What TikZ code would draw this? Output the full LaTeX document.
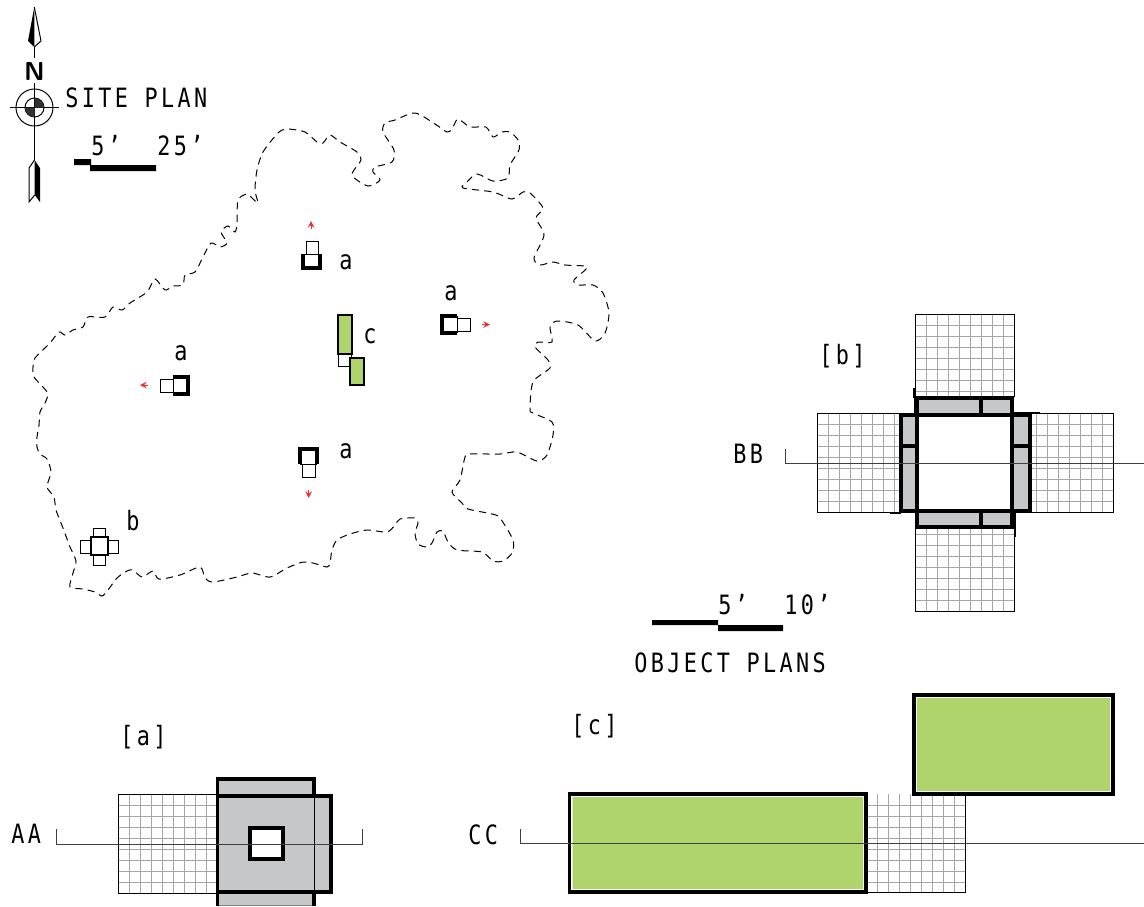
\documentclass[tikz,border=0pt]{standalone}
\usepackage{fontspec}
\setmonofont[FakeStretch=.82,LetterSpace=12.7]{DejaVu Sans Mono}
\definecolor{leaf}{HTML}{AFD46C}
\definecolor{wall}{HTML}{C6C7C9}
\definecolor{mark}{HTML}{ED2B3A}
\tikzset{
  lbl/.style={font=\ttfamily\fontsize{13.3}{15}\selectfont,anchor=base west,inner sep=0pt},
  thin line/.style={line width=.5pt},
  cut line/.style={line width=.5pt,draw=black!75},
  thick line/.style={line width=1.6pt},
  mid line/.style={line width=1.1pt},
  tile/.style={line width=.45pt,draw=black!35},
  turnout/.style={->,line width=.5pt,draw=mark},
}
\begin{document}
\begin{tikzpicture}[x=.5pt,y=-.5pt,>=stealth,line join=miter]
  \useasboundingbox (0,0) rectangle (1144,906);
  % north sign
  \draw[thin line] (34.5,47)--(34.5,58) (34.5,83)--(34.5,160) (10,107.5)--(59,107.5);
  \draw[thin line] (34.5,107.5) circle (18.5) (34.5,107.5) circle (9.5);
  \fill[black!80] (34.5,107.5)--(34.5,98) arc (-90:0:9.5)--cycle;
  \fill[black!80] (34.5,107.5)--(34.5,117) arc (90:180:9.5)--cycle;
  \draw[thin line] (34.3,7)--(41,41)--(34.3,47);
  \fill (34.3,7)--(28,41)--(34.3,47)--cycle;
  \draw[thin line] (34.5,160)--(29,168)--(29,202)--(34.7,195);
  \fill (34.5,160)--(40,168)--(40,202)--(34.7,195)--cycle;
  \node[font=\sffamily\bfseries\fontsize{13}{15}\selectfont,inner sep=0pt] (north) at (34.5,71) {N};
  % site plan title and scale
  \node[lbl] (siteplan) at (65,107) {SITE PLAN};
  \fill (74,159) rectangle (91,165) (90,165) rectangle (156,171);
  \node[lbl] (sitefive) at (91,155) {5’};
  \node[lbl] (sitetwentyfive) at (157,155) {25’};
  % site edge
  \draw[thin line,dash pattern=on 3.6pt off 2.6pt] plot[smooth cycle,tension=.45] coordinates {
    (33,367) (34,377) (43,387) (48,394) (45,403) (40,412) (39,425) (37,437) (37,447) (40,454)
    (47,459) (51,472) (47,487) (54,497) (56,510) (63,528) (70,547) (76,561) (73,573) (70,587)
    (83,589) (95,592) (102,596) (108,590) (117,578) (127,571) (133,570) (142,577) (153,571) (159,579)
    (180,575) (200,567) (205,578) (213,582) (237,577) (252,573) (270,577) (287,568) (303,562) (313,563)
    (327,567) (330,563) (332,550) (337,540) (350,534) (367,530) (387,532) (395,525) (400,519) (415,518)
    (418,523) (415,533) (418,544) (427,547) (432,543) (437,532) (443,531) (448,542) (457,550) (482,552)
    (493,561) (503,561) (512,553) (513,540) (500,518) (492,514) (468,509) (462,503) (452,492) (460,480)
    (465,457) (470,454) (500,454) (517,452) (537,461) (547,455) (553,435) (552,422) (533,413) (530,409)
    (533,382) (550,368) (548,360) (535,347) (538,342) (552,342) (550,327) (557,321) (578,325) (595,341)
    (605,333) (609,313) (603,293) (593,285) (578,285) (574,280) (587,267) (565,265) (553,262) (540,265)
    (534,258) (544,235) (536,218) (543,208) (530,193) (523,192) (512,199) (493,192) (463,188) (467,182)
    (477,174) (493,181) (508,178) (510,165) (519,150) (518,140) (510,132) (502,132) (493,137) (486,127)
    (470,127) (458,119) (452,129) (447,132) (435,124) (415,113) (395,120) (385,123) (383,132) (394,150)
    (392,162) (375,167) (373,172) (380,180) (368,186) (352,175) (361,160) (357,152) (340,142) (330,135)
    (323,143) (317,142) (305,132) (287,129) (278,133) (263,152) (257,170) (255,190) (258,203) (252,198)
    (247,194) (238,200) (237,223) (235,232) (228,226) (221,232) (227,243) (220,247) (211,243) (203,257)
    (195,272) (185,275) (183,285) (173,286) (165,290) (155,279) (147,292) (130,303) (122,310) (113,307)
    (105,317) (88,317) (83,327) (73,330) (65,335) (59,332) (50,343) (35,358)};
  % site objects a
  \draw[thin line] (306,241) rectangle (318,254) (457,318) rectangle (470,331) (160,379) rectangle (173,392) (302,464) rectangle (315,477);
  \draw[thin line] (303,254)--(320,254) (457,316)--(457,333) (173,377)--(173,394) (300,464)--(317,464);
  \draw[thick line] (303,254)--(303,268)--(320,268)--(320,254);
  \draw[thick line] (457,316)--(442,316)--(442,333)--(457,333);
  \draw[thick line] (173,377)--(188,377)--(188,394)--(173,394);
  \draw[thick line] (300,464)--(300,449)--(317,449)--(317,464);
  \draw[turnout] (311,229)--(311,221);
  \draw[turnout] (482,324.5)--(490,324.5);
  \draw[turnout] (148,385)--(140,385);
  \draw[turnout] (308.7,490)--(308.7,498);
  \node[lbl] (anorth) at (339,269) {a};
  \node[lbl] (aeast) at (444,300) {a};
  \node[lbl] (awest) at (174,360) {a};
  \node[lbl] (asouth) at (339,458) {a};
  % site object b
  \draw[thin line] (93,528) rectangle (105,537) (93,555) rectangle (105,565) (80,540) rectangle (91,553) (108,540) rectangle (118,553);
  \draw[line width=1.3pt] (91,537) rectangle (108,555);
  \node[lbl] (bsite) at (126,530) {b};
  % site object c
  \draw[thin line] (338,354) rectangle (351,366);
  \draw[mid line,fill=leaf] (338,315) rectangle (352,354);
  \draw[mid line,fill=leaf] (350,358) rectangle (364,385);
  \node[lbl] (csite) at (363,343) {c};
  % object b
  \foreach \xa/\ya/\xb/\yb/\ox/\oy/\sx/\sy in {915.5/314.5/1014.5/397/915.5/314.5/11/11,817/413/899/512/817/413/11/11,1031/413/1113/512/1113/413/-11/11,915.5/528/1014.5/611/915.5/611/11/-11}{
    \begin{scope}
      \clip (\xa,\ya) rectangle (\xb,\yb);
      \foreach \i in {1,...,9} \draw[tile] (\ox+\i*\sx,\ya)--(\ox+\i*\sx,\yb) (\xa,\oy+\i*\sy)--(\xb,\oy+\i*\sy);
    \end{scope}
  }
  \draw[thin line] (915.5,397)--(915.5,314.5)--(1014.5,314.5)--(1014.5,397);
  \draw[thin line] (899,413)--(817,413)--(817,512)--(899,512);
  \draw[thin line] (1031,413)--(1113,413)--(1113,512)--(1031,512);
  \draw[thin line] (915.5,528)--(915.5,611)--(1014.5,611)--(1014.5,528);
  \draw[thick line,fill=wall] (917,398) rectangle (1012,415) (917,511) rectangle (1012,527) (901,415) rectangle (917,511) (1012,415) rectangle (1030,511);
  \draw[thick line] (981,398)--(981,415) (981,511)--(981,527) (901,446)--(917,446) (1012,446)--(1030,446);
  \draw[line width=1pt] (914,388)--(914,398) (1012,413)--(1040,413) (890,513)--(901,513) (1015,527)--(1015,537);
  \draw[line width=2pt] (915.5,398)--(915.5,415) (1014,511)--(1014,527);
  \draw[cut line] (785.5,449)--(785.5,463)--(1144,463);
  \node[lbl] (bbtext) at (733,463) {BB};
  \node[lbl] (btext) at (819,364) {[b]};
  % object scale
  \fill (652,620) rectangle (718,625) (718,625) rectangle (783,631);
  \node[lbl] (objfive) at (718,614) {5’};
  \node[lbl] (objten) at (784,614) {10’};
  \node[lbl] (objplans) at (634,672) {OBJECT PLANS};
  % object a
  \begin{scope}[shift={(118,794)}]
    \foreach \i in {1,...,8} \draw[tile] (\i*11,0)--(\i*11,99) (0,\i*11)--(99,\i*11);
  \end{scope}
  \draw[thin line] (217,794)--(118,794)--(118,893)--(217,893);
  \fill[wall] (217.5,779) rectangle (314,905);
  \draw[line width=.5pt,draw=black!50] (217.5,905.5)--(314,905.5);
  \draw[thick line] (217.5,906)--(217.5,779)--(314,779)--(314,906);
  \draw[thick line,fill=wall] (217.5,796) rectangle (331,892);
  \draw[thin line] (314,796)--(314,892);
  \draw[thick line,fill=white] (250,828) rectangle (283,859);
  \draw[cut line] (56,829)--(56,844)--(362,844)--(362,829);
  \node[lbl] (aatext) at (11,843) {AA};
  \node[lbl] (atext) at (120,745) {[a]};
  % object c
  \begin{scope}[shift={(866,794)}]
    \foreach \i in {1,...,8} \draw[tile] (\i*11,0)--(\i*11,98) (0,\i*11)--(99,\i*11);
  \end{scope}
  \draw[thin line] (866,892)--(965,892)--(965,794);
  \draw[thick line,fill=white] (569.5,794) rectangle (866,892);
  \draw[thick line,fill=white] (914,695) rectangle (1113,794);
  \fill[leaf] (572.5,797) rectangle (863,889) (917,698) rectangle (1110,791);
  \draw[cut line] (520,829)--(520,843.5)--(1144,843.5);
  \node[lbl] (cctext) at (468,844) {CC};
  \node[lbl] (ctext) at (571,734) {[c]};
\end{tikzpicture}
\end{document}
